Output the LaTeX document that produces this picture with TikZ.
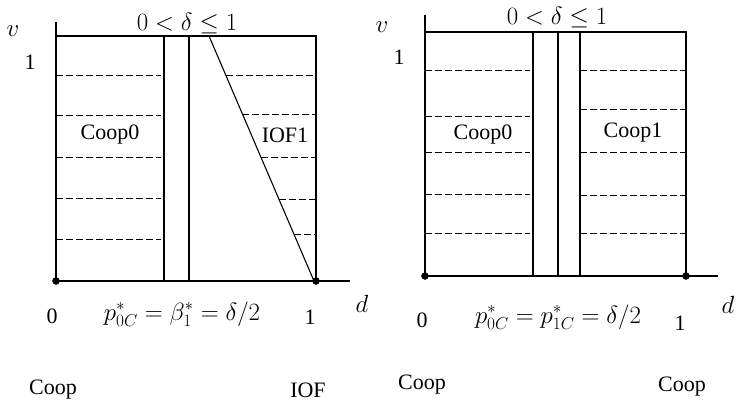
\documentclass[tikz,border=0pt]{standalone}
\usepackage{amsmath}
\usepackage{amssymb}
\usepackage{fontspec}
\setmainfont{Liberation Serif}
\usepackage{tikz}
\usetikzlibrary{positioning}

\tikzset{
	axis/.style={line width=1.3pt},
	wall/.style={line width=1.1pt},
	cut/.style={line width=0.9pt,dash pattern=on 7pt off 3pt},
	lbl/.style={inner sep=0pt,font=\fontsize{22}{26}\selectfont},
	mth/.style={inner sep=0pt,font=\fontsize{24}{28}\selectfont},
}

\begin{document}
\begin{tikzpicture}[x=1pt,y=-1pt]
	\useasboundingbox (0,0) rectangle (737,402);
	% left panel: Coop vs IOF
	\draw[axis] (56,22) -- (56,281) -- (350,281);
	\draw[wall] (56,36) -- (316,36) -- (316,281);
	\draw[wall] (164,36) -- (164,281) (189,36) -- (189,281);
	\draw[wall] (209,36) -- (314,281);
	\foreach\y in {75,115,157,198,239}
		{\draw[cut] (56,\y) -- (161,\y);}
	\foreach\y in {75,114,157,199,234}
		{\draw[cut] ({209+(\y-36)/245*105},\y) -- (316,\y);}
	\filldraw (56,281) circle(3.5pt) (316,281) circle(3.5pt);
	\node[mth] (vL) at (13,31) {$v$};
	\node[lbl] (oneL) at (30,62) {1};
	\node[mth] (deltaL) at (187,24) {$0<\delta\leq 1$};
	\node[lbl] (coopzeroL) at (110,135) {Coop0};
	\node[lbl] (iofone) at (285,135) {IOF1};
	\node[mth] (dL) at (362,304) {$d$};
	\node[lbl] (zeroL) at (52,316) {0};
	\node[mth] (priceL) at (182,314) {$p^*_{0C}=\beta^*_1=\delta/2$};
	\node[lbl] (endL) at (310,317) {1};
	\node[lbl] (coopL) at (53,390) {Coop};
	\node[lbl] (iof) at (308,390) {IOF};
	% right panel: Coop vs Coop
	\draw[axis] (425,15) -- (425,276) -- (718,276);
	\draw[wall] (425,32) -- (686,32) -- (686,276);
	\foreach\x in {533,558,580}
		{\draw[wall] (\x,32) -- (\x,276);}
	\foreach\y in {70,116,152,194,233}
		{\draw[cut] (425,\y) -- (530,\y);}
	\foreach\y in {70,109,152,195,233}
		{\draw[cut] (580,\y) -- (686,\y);}
	\filldraw (425,276) circle(3.5pt) (686,276) circle(3.5pt);
	\node[mth] (vR) at (382,27) {$v$};
	\node[lbl] (oneR) at (399,57) {1};
	\node[mth] (deltaR) at (557,18) {$0<\delta\leq 1$};
	\node[lbl] (coopzeroR) at (483,135) {Coop0};
	\node[lbl] (coopone) at (633,133) {Coop1};
	\node[mth] (dR) at (728,305) {$d$};
	\node[lbl] (zeroR) at (422,320) {0};
	\node[mth] (priceR) at (558,317) {$p^*_{0C}=p^*_{1C}=\delta/2$};
	\node[lbl] (endR) at (680,323) {1};
	\node[lbl] (coopR) at (422,385) {Coop};
	\node[lbl] (coopRR) at (682,387) {Coop};
\end{tikzpicture}
\end{document}
